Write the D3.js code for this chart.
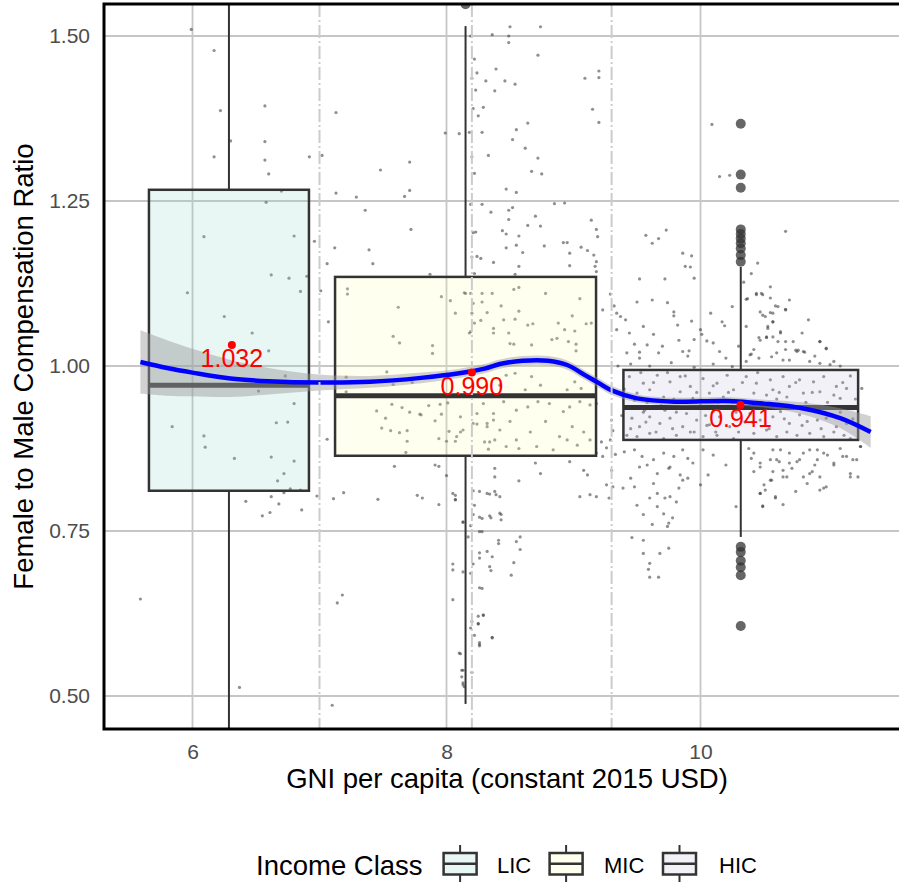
<!DOCTYPE html>
<html>
<head>
<meta charset="utf-8">
<script src="https://cdn.jsdelivr.net/npm/d3@7"></script>
<style>
  body { margin: 0; background: #fff; }
  text { font-family: "Liberation Sans", Arial, Helvetica, sans-serif; }
</style>
</head>
<body>
<script>
// Income classes and box statistics
var classes = ["LIC", "MIC", "HIC"];
var classColors = ["#8DD3C7", "#FFFFB3", "#BEBADA"];
var boxCenter = [6.287, 8.150, 10.317];
var boxWidth = [1.26, 2.055, 1.848];
var q1 = [0.811, 0.864, 0.888];
var median = [0.971, 0.955, 0.937];
var q3 = [1.267, 1.135, 0.994];
var whiskerLo = [0.40, 0.488, 0.741];
var whiskerHi = [1.70, 1.515, 1.150];
var outliers = [
  [], [1.548],
  [1.367, 1.290, 1.270, 1.207, 1.200, 1.193, 1.186, 1.178, 1.168, 1.158,
   0.726, 0.718, 0.705, 0.695, 0.683, 0.606]
];

// Class means (red points)
var meanX = [6.31, 8.20, 10.315];
var meanY = [1.032, 0.990, 0.941];

// Class thresholds (dash-dot lines)
var thresholds = [7.0, 8.2, 9.3];

// Axis ticks
var xTicks = [6, 8, 10];
var yTicks = [0.50, 0.75, 1.00, 1.25, 1.50];

// Loess smooth with standard error
var smoothX = [5.59, 5.8, 6.0, 6.3, 6.6, 7.0, 7.4, 7.8, 8.1, 8.3, 8.42, 8.6, 8.8, 8.95, 9.1, 9.2, 9.3, 9.5, 9.8, 10.2, 10.5, 10.8, 11.1, 11.34];
var smoothY = [1.006, 0.997, 0.990, 0.981, 0.977, 0.975, 0.976, 0.982, 0.989, 0.996, 1.003, 1.008, 1.008, 1.0015, 0.985, 0.974, 0.963, 0.951, 0.946, 0.947, 0.943, 0.936, 0.921, 0.900];
var smoothSE = [0.048, 0.042, 0.036, 0.028, 0.020, 0.012, 0.009, 0.008, 0.007, 0.007, 0.007, 0.007, 0.007, 0.007, 0.007, 0.007, 0.007, 0.006, 0.006, 0.006, 0.006, 0.009, 0.015, 0.024];

// Jittered observations
var licPoints = [
  [5.99,1.51],[6.17,1.478],[6.22,1.387],[6.57,1.394],[6.30,1.341],[6.57,1.34],[6.17,1.317],[6.57,1.312],
  [6.60,1.291],[6.92,1.317],[6.70,1.265],[6.58,1.248],[6.09,1.196],[6.80,1.197],[6.96,1.189],[6.62,1.138],
  [6.76,1.133],[6.90,1.136],[6.85,1.113],[5.96,1.111],[6.25,1.075],[6.47,1.05],[6.60,1.023],[6.73,0.985],
  [6.52,0.962],[6.80,0.943],[5.84,0.908],[6.09,0.894],[6.10,0.877],[6.66,0.914],[6.75,0.915],[6.33,0.86],
  [6.62,0.862],[6.80,0.856],[6.72,0.837],[6.67,0.826],[6.77,0.814],[6.85,0.812],[6.42,0.795],[6.62,0.802],
  [6.72,0.808],[6.68,0.791],[6.55,0.773],[6.61,0.778],[6.86,0.782],[6.98,0.803],[5.59,0.647],[6.37,0.513]
];
var micPoints = [
  [7.02,1.319],[7.13,1.384],[7.48,1.297],[7.71,1.309],[7.99,1.353],[8.10,1.352],[7.13,1.262],[7.29,1.256],
  [7.67,1.257],[7.71,1.266],[7.36,1.236],[7.72,1.207],[7.12,1.179],[7.39,1.176],[7.06,1.155],[7.42,1.155],
  [7.87,1.139],[7.01,1.114],[7.07,1.067],[7.22,1.117],[7.22,1.109],[7.62,1.089],[7.58,1.045],[7.63,1.035],
  [7.89,1.031],[7.89,1.019],[7.96,1.105],[8.03,1.099],[8.07,1.08],[8.14,1.111],
  [8.19,1.50],[8.22,1.465],[8.20,1.436],[8.23,1.418],[8.21,1.39],[8.18,1.354],[8.20,1.317],[8.22,1.292],
  [8.19,1.245],[8.23,1.203],[8.20,1.165],[8.22,1.14],[8.19,1.11],[8.21,1.095],[8.20,1.08],[8.22,1.065],[8.19,1.052],
  [8.50,1.514],[8.74,1.514],[8.36,1.502],[8.49,1.50],[8.49,1.49],[8.72,1.471],[8.24,1.444],[8.31,1.432],
  [8.39,1.45],[8.38,1.417],[8.46,1.432],[8.54,1.427],[9.09,1.436],[9.20,1.447],[9.20,1.437],[9.15,1.389],
  [9.20,1.369],[8.29,1.392],[8.25,1.379],[8.28,1.354],[8.55,1.358],[8.64,1.368],[8.52,1.343],[8.62,1.33],
  [8.33,1.319],[8.72,1.315],[8.67,1.295],[8.75,1.291],[8.47,1.268],[8.55,1.263],[8.28,1.245],[8.35,1.233],
  [8.49,1.236],[8.52,1.24],[8.49,1.222],[8.85,1.246],[8.93,1.247],[8.70,1.227],[8.64,1.213],[8.74,1.212],
  [8.44,1.205],[8.47,1.20],[8.57,1.197],[8.21,1.202],[9.14,1.221],[9.18,1.207],[9.19,1.196],[8.47,1.179],
  [8.55,1.183],[8.60,1.172],[8.77,1.182],[8.92,1.187],[8.95,1.187],[9.06,1.18],[9.11,1.175],[9.16,1.168],
  [9.18,1.158],[9.17,1.151],[9.18,1.143],[8.97,1.171],[8.97,1.152],[8.24,1.166],[8.27,1.163],[8.37,1.157],
  [8.57,1.151],[8.54,1.139],[9.29,1.109],[9.23,1.085],
  [8.15,1.11],[8.28,1.11],[8.28,1.097],[8.36,1.11],[8.43,1.091],[8.32,1.081],[8.57,1.083],[8.54,1.071],
  [8.45,1.07],[8.27,1.069],[8.37,1.057],[8.37,1.05],[8.49,1.05],[8.64,1.062],[8.68,1.064],[8.78,1.11],
  [8.53,1.116],[8.57,1.119],[9.05,1.102],[8.88,1.065],[8.93,1.055],[8.83,1.04],[8.87,1.042],[8.99,1.076],
  [9.10,1.064],[9.14,1.065],[9.01,1.053],[9.02,1.033],[9.02,1.023],[8.18,1.05],[8.50,1.034],[8.53,1.033],
  [8.67,1.032],[8.96,1.037],
  [7.06,0.889],[7.11,0.799],[7.19,0.808],[7.46,0.798],[7.77,0.804],[7.81,0.80],[7.94,0.79],[8.07,0.797],
  [8.07,0.804],[8.00,0.834],[7.91,0.85],[7.94,0.848],[7.59,0.848],[7.10,0.486],[7.14,0.641],[7.18,0.653],
  [8.13,0.764],[8.21,0.775],[8.26,0.771],[8.35,0.77],[8.43,0.775],[8.26,0.749],[8.17,0.741],[8.26,0.717],
  [8.32,0.719],[8.41,0.731],[8.05,0.70],[8.19,0.686],[8.21,0.70],[8.35,0.69],[8.26,0.664],[8.05,0.646],
  [8.25,0.621],[8.29,0.622],[8.25,0.609],[8.20,0.613],[8.19,0.603],[8.22,0.592],[8.26,0.581],[8.26,0.576],
  [8.11,0.564],[8.12,0.539],[8.13,0.52],[8.14,0.514],[8.20,0.536],[8.36,0.589],[8.21,0.811],[8.26,0.81],
  [8.34,0.806],[8.39,0.805],[8.22,0.789],[8.38,0.845],[8.38,0.832],
  [7.45,0.932],[7.52,0.921],[7.49,0.906],[7.56,0.902],[7.63,0.899],[7.69,0.902],[7.69,0.886],[7.68,0.869],
  [7.80,0.926],[7.91,0.917],[7.96,0.927],[7.94,0.89],[8.02,0.901],[8.00,0.886],[8.07,0.886],[8.11,0.90],
  [8.24,0.912],[8.32,0.913],[8.37,0.918],[8.30,0.885],[8.33,0.874],[8.38,0.888],[7.57,0.942],[7.65,0.937],
  [7.71,0.93],[7.79,0.927],[7.86,0.94],[7.95,0.942],[8.01,0.944],[7.53,0.991],[7.58,0.972],[7.73,0.975],
  [7.21,0.983],[7.21,0.961],
  [8.47,0.986],[8.54,0.989],[8.67,0.984],[8.74,0.971],[8.62,0.964],[8.42,0.971],[8.95,0.964],[9.01,0.976],
  [9.06,0.966],[8.29,0.943],[8.37,0.928],[8.45,0.946],[8.50,0.916],[8.55,0.933],[8.64,0.938],[8.72,0.946],
  [8.81,0.943],[8.92,0.931],[8.97,0.938],[9.05,0.946],[9.13,0.941],[8.32,0.908],[8.42,0.903],[8.55,0.888],
  [8.66,0.90],[8.78,0.916],[8.89,0.893],[8.99,0.908],[9.08,0.90],[9.13,0.888],[8.13,0.903],[8.08,0.893],
  [8.34,0.885],[8.47,0.878],[8.57,0.875],[8.71,0.878],[8.84,0.873],[8.95,0.888],[9.03,0.88],[8.21,0.913],
  [8.24,0.928],[8.11,0.923],
  [8.57,0.826],[8.42,0.802],[8.38,0.81],[8.32,0.807],[8.28,0.769],[8.34,0.773],[8.42,0.777],[8.43,0.767],
  [8.07,0.798],[8.05,0.807],[8.13,0.763],[8.19,0.758],[8.28,0.749],[8.41,0.736],[8.55,0.734],[8.58,0.741],
  [8.58,0.722],[8.36,0.711],[8.26,0.709],[8.53,0.702],[8.51,0.683],[8.34,0.696],[8.05,0.691],[8.13,0.688],
  [8.28,0.663],[8.29,0.623],[8.25,0.61],[8.36,0.588],[8.26,0.578],[8.10,0.565],[8.13,0.539],[8.12,0.529],
  [8.13,0.517],[8.70,0.853],[8.74,0.837],[8.97,0.855],[9.08,0.842],[9.11,0.835],[9.18,0.868],[9.23,0.863],
  [9.05,0.802],[9.13,0.805],[9.18,0.802],[9.26,0.82],[9.28,0.80],[9.22,0.885],[9.18,0.943],[9.26,0.876]
];
var hicPoints = [
  [9.30,0.918],[9.31,0.902],[9.29,0.888],[9.33,0.866],[9.30,0.842],[9.31,0.817],[9.39,0.815],[9.48,0.817],
  [9.50,0.789],[9.60,0.80],[9.66,0.787],[9.71,0.776],[9.75,0.762],[9.74,0.757],[9.46,0.74],[9.55,0.736],
  [9.55,0.716],[9.68,0.716],[9.75,0.724],[9.60,0.701],[9.59,0.692],[9.60,0.68],[9.67,0.68],
  [10.09,1.366],[10.15,1.287],[10.23,1.289],[9.73,1.206],[9.57,1.198],[9.62,1.186],[9.67,1.193],[10.67,1.204],
  [9.86,1.171],[9.93,1.167],[9.92,1.150],[9.88,1.151],[9.95,1.133],[9.72,1.132],[9.52,1.132],[10.45,1.156],
  [10.34,1.127],[9.32,1.091],[9.50,1.097],[9.74,1.096],[10.44,1.11],[10.49,1.108],[10.37,1.102],[10.59,1.091],
  [10.67,1.086],[10.47,1.082],[10.51,1.075],[10.55,1.081],[10.57,1.067],[10.63,1.05],[10.53,1.057],[10.94,1.037],
  [10.99,1.026],[9.34,1.08],[9.37,1.075],[9.41,1.07],[9.34,1.055],[9.44,1.05],[9.63,1.048],[9.79,1.076],
  [9.82,1.062],[9.79,1.082],[9.93,1.068],[10.00,1.055],[10.01,1.048],[10.17,1.067],[10.19,1.061],[9.48,1.033],
  [9.52,1.021],[9.58,1.032],[9.67,1.02],[9.83,1.039],[9.91,1.023],[9.86,1.022],[10.05,1.038],[10.10,1.035],
  [10.15,1.022],[10.46,1.043],[10.52,1.043],[10.57,1.044],[10.61,1.037],[10.67,1.025],[10.75,1.024],[10.40,1.018],
  [10.76,1.022],[10.82,1.021],
  [10.44,1.108],[10.48,1.11],[10.36,1.101],[10.55,1.103],[10.49,1.077],[10.57,1.08],[10.61,1.09],[10.67,1.085],
  [10.53,1.06],[10.57,1.067],[10.63,1.052],[10.47,1.039],[10.52,1.044],[10.67,1.037],[10.73,1.037],[10.77,1.024],
  [10.81,1.022],[10.94,1.037],[10.99,1.027],[10.39,1.017],[10.46,1.012],[10.56,1.014],[10.65,1.009],[10.70,1.009],
  [10.86,1.007],[10.94,1.004],[11.02,1.002],[11.05,1.007],[10.36,1.007],
  [10.36,0.984],[10.44,0.974],[10.55,0.979],[10.65,0.984],[10.70,0.969],[10.78,0.979],[10.89,0.976],[10.97,0.984],
  [11.07,0.969],[11.15,0.966],[10.42,0.959],[10.52,0.956],[10.57,0.964],[10.68,0.953],[10.81,0.959],[10.94,0.961],
  [11.05,0.956],[11.10,0.951],[10.39,0.928],[10.47,0.918],[10.57,0.923],[10.63,0.931],[10.70,0.913],[10.78,0.926],
  [10.84,0.916],[10.92,0.918],[10.99,0.921],[11.07,0.908],[11.15,0.913],[10.42,0.898],[10.52,0.903],[10.60,0.893],
  [10.68,0.90],[10.76,0.895],[10.86,0.898],[10.97,0.893],[11.05,0.90],[11.18,0.89],[11.27,0.966],[11.26,0.878],
  [10.42,0.868],[10.47,0.853],[10.57,0.873],[10.60,0.858],[10.57,0.84],[10.65,0.832],[10.56,0.827],[10.76,0.855],
  [10.81,0.868],[10.92,0.873],[10.88,0.84],[10.94,0.832],[10.97,0.815],[11.05,0.85],[11.12,0.863],[11.20,0.858],
  [11.24,0.832],[11.18,0.832],[10.47,0.807],[10.51,0.812],[10.59,0.80],[10.49,0.788],
  [9.44,0.984],[9.55,0.974],[9.66,0.986],[9.76,0.976],[9.84,0.984],[9.92,0.969],[10.02,0.981],[10.13,0.974],
  [10.21,0.986],[10.26,0.964],[9.50,0.959],[9.60,0.964],[9.71,0.953],[9.84,0.961],[9.94,0.951],[10.07,0.959],
  [10.18,0.953],[9.46,0.921],[9.52,0.908],[9.60,0.923],[9.68,0.913],[9.76,0.921],[9.86,0.908],[9.97,0.918],
  [10.07,0.911],[10.15,0.923],[10.23,0.908],[9.42,0.895],[9.50,0.893],[9.60,0.898],[9.71,0.89],[9.81,0.895],
  [9.92,0.90],[10.02,0.893],[10.13,0.895],[10.26,0.89],[9.56,0.933],[9.72,0.933],[10.10,0.931],[9.89,0.928],
  [9.48,0.873],[9.54,0.863],[9.63,0.858],[9.71,0.868],[9.79,0.863],[9.86,0.873],[9.94,0.853],[9.63,0.822],
  [9.66,0.837],[9.76,0.847],[9.84,0.835],[9.86,0.827],[10.02,0.873],[10.06,0.835],[9.66,0.807],[9.76,0.802],
  [9.81,0.794],[10.28,0.787],[10.40,0.86],[10.47,0.847],[10.55,0.858],[10.63,0.873],[10.70,0.868],[10.65,0.842],
  [10.55,0.827],[10.68,0.832],[10.78,0.858],[10.86,0.873],[10.92,0.858],[10.97,0.868],[11.05,0.853],[11.15,0.863],
  [11.23,0.858],[10.81,0.832],[10.86,0.837],[10.94,0.812],[10.99,0.817],[11.18,0.837],[10.47,0.807],[10.59,0.802],
  [10.49,0.787],[10.84,0.822],[10.70,0.853],[11.26,0.878],[9.52,0.847],[9.83,0.815],
  [9.45,1.003],[9.60,1.0],[9.77,1.005],[9.95,0.998],[10.10,1.003],[10.25,0.999],[9.52,1.012],[9.90,1.015],[10.20,1.012],
  [9.40,0.965],[9.48,0.948],[9.53,0.99],[9.58,0.945],[9.63,0.975],[9.69,0.94],[9.74,0.99],[9.79,0.95],
  [9.81,0.93],[9.88,0.985],[9.97,0.96],[10.00,0.94],[10.04,0.925],[10.10,0.97],[10.14,0.945],[10.22,0.96],
  [10.28,0.93],[10.33,0.975],[10.38,0.945],[10.41,0.915],[10.45,0.99],[10.50,0.935],[10.54,0.905],[10.60,0.95],
  [10.66,0.92],[10.72,0.94],[10.75,0.975],[10.80,0.91],[10.83,0.945],[10.90,0.935],[10.95,0.905],[11.00,0.945],
  [11.03,0.925],[11.10,0.93],[11.13,0.895],[11.20,0.92],[11.22,0.95],[9.38,0.925],[9.45,0.905],[9.57,0.915],
  [9.65,0.90],[9.78,0.905],[9.95,0.90],[10.05,0.91],[10.12,0.90],[10.30,0.90],[10.35,0.915],[10.44,0.94],
  [10.62,0.96],[10.88,0.96],[11.12,0.975],[9.90,0.945],[9.55,0.93],[10.25,0.945],
  [9.40,0.87],[9.58,0.85],[9.75,0.845],[9.90,0.86],[10.10,0.865],[10.20,0.85],[10.38,0.875],[10.42,0.84],
  [10.62,0.855],[10.72,0.845],[10.90,0.85],[11.00,0.865],[11.10,0.875],[9.45,0.83],[9.90,0.83],[10.00,0.82],
  [10.50,0.82],[10.75,0.81],[10.65,0.79],[9.78,0.77],[9.72,0.80],[9.62,0.76],[9.55,0.775],
  [9.42,1.02],[9.55,1.06],[9.70,1.03],[9.95,1.04],[10.08,1.08],[10.30,1.03],[10.36,1.06],[10.42,1.025],
  [10.60,1.02],[10.80,1.05],[10.90,1.015],[11.10,1.0],[11.18,0.985],[9.35,1.0],[9.62,1.10],[10.25,1.09],
  [10.40,1.14],[10.55,1.12],[10.70,1.10],[10.85,1.07]
];

	/*
	 * Bounds of component.
	 */
	var width = 899,
		height = 882,
		panel = { left: 104, top: 4, right: 910, bottom: 729 };

	var svg = d3.select("body").append("svg")
		.attr("width", width)
		.attr("height", height)
		.style("background", "#fff");

	/*
	 * Scales.
	 */
	var x = d3.scaleLinear().domain([6, 10]).range([192.5, 700.5]);
	var y = d3.scaleLinear().domain([0.5, 1.5]).range([696, 36]);

	svg.append("clipPath")
		.attr("id", "panel-clip")
		.append("rect")
		.attr("x", panel.left)
		.attr("y", panel.top)
		.attr("width", panel.right - panel.left)
		.attr("height", panel.bottom - panel.top);

	var plot = svg.append("g").attr("clip-path", "url(#panel-clip)");

	/*
	 * Grid lines.
	 */
	plot.selectAll(".gx").data(xTicks).enter().append("line")
		.attr("x1", function(d) { return x(d); })
		.attr("x2", function(d) { return x(d); })
		.attr("y1", panel.top).attr("y2", panel.bottom)
		.attr("stroke", "#c6c6c6").attr("stroke-width", 1.8);

	plot.selectAll(".gy").data(yTicks).enter().append("line")
		.attr("y1", function(d) { return y(d); })
		.attr("y2", function(d) { return y(d); })
		.attr("x1", panel.left).attr("x2", panel.right)
		.attr("stroke", "#c6c6c6").attr("stroke-width", 1.8);

	/*
	 * Jittered points.
	 */
	var allPoints = licPoints.concat(micPoints, hicPoints);
	plot.selectAll(".pt").data(allPoints).enter().append("circle")
		.attr("cx", function(d) { return x(d[0]); })
		.attr("cy", function(d) { return y(d[1]); })
		.attr("r", 1.6)
		.attr("fill", "#333")
		.attr("fill-opacity", 0.55);

	/*
	 * Boxplots.
	 */
	var boxes = classes.map(function(c, i) {
		return { name: c, i: i };
	});

	var bg = plot.selectAll(".box").data(boxes).enter().append("g");

	bg.append("line")
		.attr("x1", function(d) { return x(boxCenter[d.i]); })
		.attr("x2", function(d) { return x(boxCenter[d.i]); })
		.attr("y1", function(d) { return y(q3[d.i]); })
		.attr("y2", function(d) { return y(whiskerHi[d.i]); })
		.attr("stroke", "#333").attr("stroke-width", 2);

	bg.append("line")
		.attr("x1", function(d) { return x(boxCenter[d.i]); })
		.attr("x2", function(d) { return x(boxCenter[d.i]); })
		.attr("y1", function(d) { return y(q1[d.i]); })
		.attr("y2", function(d) { return y(whiskerLo[d.i]); })
		.attr("stroke", "#333").attr("stroke-width", 2);

	bg.append("rect")
		.attr("x", function(d) { return x(boxCenter[d.i] - boxWidth[d.i] / 2); })
		.attr("width", function(d) { return x(boxCenter[d.i] + boxWidth[d.i] / 2) - x(boxCenter[d.i] - boxWidth[d.i] / 2); })
		.attr("y", function(d) { return y(q3[d.i]); })
		.attr("height", function(d) { return y(q1[d.i]) - y(q3[d.i]); })
		.attr("fill", function(d) { return classColors[d.i]; })
		.attr("fill-opacity", 0.2)
		.attr("stroke", "#333").attr("stroke-width", 2.5);

	bg.append("line")
		.attr("x1", function(d) { return x(boxCenter[d.i] - boxWidth[d.i] / 2); })
		.attr("x2", function(d) { return x(boxCenter[d.i] + boxWidth[d.i] / 2); })
		.attr("y1", function(d) { return y(median[d.i]); })
		.attr("y2", function(d) { return y(median[d.i]); })
		.attr("stroke", "#333").attr("stroke-width", 5);

	bg.selectAll(".out")
		.data(function(d) { return outliers[d.i].map(function(v) { return [boxCenter[d.i], v]; }); })
		.enter().append("circle")
		.attr("cx", function(d) { return x(d[0]); })
		.attr("cy", function(d) { return y(d[1]); })
		.attr("r", 5)
		.attr("fill", "#333")
		.attr("fill-opacity", 0.75);

	/*
	 * Loess smooth with confidence band.
	 */
	var smooth = smoothX.map(function(v, i) {
		return { x: v, y: smoothY[i], se: smoothSE[i] };
	});

	var area = d3.area()
		.curve(d3.curveCatmullRom)
		.x(function(d) { return x(d.x); })
		.y0(function(d) { return y(d.y - d.se); })
		.y1(function(d) { return y(d.y + d.se); });

	var line = d3.line()
		.curve(d3.curveCatmullRom)
		.x(function(d) { return x(d.x); })
		.y(function(d) { return y(d.y); });

	plot.append("path")
		.attr("d", area(smooth))
		.attr("fill", "#999")
		.attr("fill-opacity", 0.45);

	plot.append("path")
		.attr("d", line(smooth))
		.attr("fill", "none")
		.attr("stroke", "#0000ff")
		.attr("stroke-width", 4.5);

	/*
	 * Threshold lines.
	 */
	plot.selectAll(".thr").data(thresholds).enter().append("line")
		.attr("x1", function(d) { return x(d); })
		.attr("x2", function(d) { return x(d); })
		.attr("y1", panel.top).attr("y2", panel.bottom)
		.attr("stroke", "#cccccc").attr("stroke-width", 2)
		.attr("stroke-dasharray", "13,3,2,3");

	/*
	 * Means with labels.
	 */
	plot.selectAll(".mean").data(meanX).enter().append("circle")
		.attr("cx", function(d) { return x(d); })
		.attr("cy", function(d, i) { return y(meanY[i]); })
		.attr("r", 4)
		.attr("fill", "#ff0000");

	plot.selectAll(".mlab").data(meanX).enter().append("text")
		.attr("x", function(d) { return x(d); })
		.attr("y", function(d, i) { return y(meanY[i]) + 22.5; })
		.attr("text-anchor", "middle")
		.attr("font-size", 25)
		.attr("fill", "#ff0000")
		.text(function(d, i) { return meanY[i].toFixed(3); });

	/*
	 * Panel border.
	 */
	svg.append("rect")
		.attr("x", panel.left).attr("y", panel.top)
		.attr("width", panel.right - panel.left)
		.attr("height", panel.bottom - panel.top)
		.attr("fill", "none")
		.attr("stroke", "#000")
		.attr("stroke-width", 3);

	/*
	 * Axes.
	 */
	var yAxis = svg.append("g")
		.attr("transform", "translate(" + panel.left + ",0)")
		.call(d3.axisLeft(y).tickValues(yTicks).tickSize(0).tickPadding(14).tickFormat(d3.format(".2f")));
	var xAxis = svg.append("g")
		.attr("transform", "translate(0," + panel.bottom + ")")
		.call(d3.axisBottom(x).tickValues(xTicks).tickSize(0).tickPadding(15).tickFormat(d3.format("d")));

	[xAxis, yAxis].forEach(function(a) {
		a.select(".domain").remove();
		a.selectAll("text")
			.attr("font-size", 21)
			.attr("font-family", "Liberation Sans, Arial, sans-serif")
			.attr("fill", "#4d4d4d");
	});

	svg.append("text")
		.attr("x", 507).attr("y", 788)
		.attr("text-anchor", "middle")
		.attr("font-size", 27.5)
		.attr("fill", "#000")
		.text("GNI per capita (constant 2015 USD)");

	svg.append("text")
		.attr("transform", "translate(33," + ((panel.top + panel.bottom) / 2) + ") rotate(-90)")
		.attr("text-anchor", "middle")
		.attr("font-size", 27.5)
		.attr("fill", "#000")
		.text("Female to Male Compensation Ratio");

	/*
	 * Legend.
	 */
	var legendKeyX = [443.6, 549.6, 663];
	var legendLabelX = [497, 604, 719];

	svg.append("text")
		.attr("x", 256).attr("y", 875)
		.attr("font-size", 27.5)
		.text("Income Class");

	var lg = svg.selectAll(".leg").data(boxes).enter().append("g");

	lg.append("line")
		.attr("x1", function(d) { return legendKeyX[d.i] + 16.5; })
		.attr("x2", function(d) { return legendKeyX[d.i] + 16.5; })
		.attr("y1", 845).attr("y2", 882)
		.attr("stroke", "#333").attr("stroke-width", 2);

	lg.append("rect")
		.attr("x", function(d) { return legendKeyX[d.i]; })
		.attr("y", 853)
		.attr("width", 33).attr("height", 21.5)
		.attr("fill", "#fff")
		.attr("stroke", "none");

	lg.append("rect")
		.attr("x", function(d) { return legendKeyX[d.i]; })
		.attr("y", 853)
		.attr("width", 33).attr("height", 21.5)
		.attr("fill", function(d) { return classColors[d.i]; })
		.attr("fill-opacity", 0.2)
		.attr("stroke", "#333").attr("stroke-width", 2.5);

	lg.append("line")
		.attr("x1", function(d) { return legendKeyX[d.i]; })
		.attr("x2", function(d) { return legendKeyX[d.i] + 33; })
		.attr("y1", 863.7).attr("y2", 863.7)
		.attr("stroke", "#333").attr("stroke-width", 2.5);

	lg.append("text")
		.attr("x", function(d) { return legendLabelX[d.i]; })
		.attr("y", 873)
		.attr("font-size", 22)
		.text(function(d) { return d.name; });
</script>
</body>
</html>
